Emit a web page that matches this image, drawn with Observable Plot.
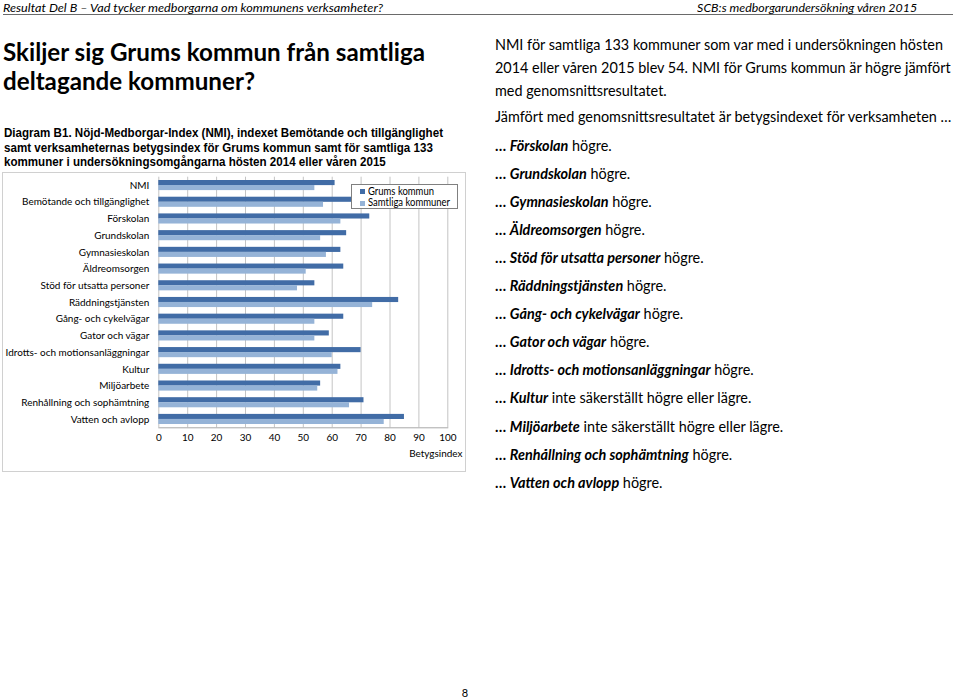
<!DOCTYPE html>
<html><head><meta charset="utf-8">
<script src="https://cdn.jsdelivr.net/npm/d3@7"></script>
<script src="https://cdn.jsdelivr.net/npm/@observablehq/plot@0.6"></script>
<style>
html,body{margin:0;padding:0;background:#fff;}
#page{position:relative;width:960px;height:699px;overflow:hidden;background:#fff;color:#000;}
.ln{position:absolute;white-space:nowrap;}
</style></head><body><div id="page"></div>
<script>
// ---------- data ----------
const categories = ["NMI","Bemötande och tillgänglighet","Förskolan","Grundskolan","Gymnasieskolan","Äldreomsorgen","Stöd för utsatta personer","Räddningstjänsten","Gång- och cykelvägar","Gator och vägar","Idrotts- och motionsanläggningar","Kultur","Miljöarbete","Renhållning och sophämtning","Vatten och avlopp"];
const grums    = [61,67,73,65,63,64,54,83,64,59,70,63,56,71,85];
const samtliga = [54,57,63,56,58,51,48,74,54,54,60,62,55,66,78];
const seriesNames = ["Grums kommun","Samtliga kommuner"];
const xTicks = [0,10,20,30,40,50,60,70,80,90,100];
const xLabel = "Betygsindex";

const headerLeft = "Resultat Del B – Vad tycker medborgarna om kommunens verksamheter?";
const headerRight = "SCB:s medborgarundersökning våren 2015";
const titleLines = ["Skiljer sig Grums kommun från samtliga","deltagande kommuner?"];
const captionLines = ["Diagram B1. Nöjd-Medborgar-Index (NMI), indexet Bemötande och tillgänglighet","samt verksamheternas betygsindex för Grums kommun samt för samtliga 133","kommuner i undersökningsomgångarna hösten 2014 eller våren 2015"];
const introLines = ["NMI för samtliga 133 kommuner som var med i undersökningen hösten","2014 eller våren 2015 blev 54. NMI för Grums kommun är högre jämfört","med genomsnittsresultatet."];
const compareLine = "Jämfört med genomsnittsresultatet är betygsindexet för verksamheten …";
const resultNames = ["Förskolan","Grundskolan","Gymnasieskolan","Äldreomsorgen","Stöd för utsatta personer","Räddningstjänsten","Gång- och cykelvägar","Gator och vägar","Idrotts- och motionsanläggningar","Kultur","Miljöarbete","Renhållning och sophämtning","Vatten och avlopp"];
const resultTexts = ["högre.","högre.","högre.","högre.","högre.","högre.","högre.","högre.","högre.","inte säkerställt högre eller lägre.","inte säkerställt högre eller lägre.","högre.","högre."];
const pageNumber = "8";

// ---------- helpers ----------
const page = document.getElementById("page");
function line(html, x, base, css, anchor){
  const d = document.createElement("div");
  d.className = "ln";
  d.style.cssText = css;
  d.innerHTML = html + '<span style="display:inline-block;width:0;height:0;vertical-align:baseline"></span>';
  page.appendChild(d);
  const b = d.lastChild.offsetTop;
  d.style.top = (base - b) + "px";
  d.style.left = x + "px";
  d._x = x; d._anchor = anchor || "start";
  return d;
}
function scaleGroup(els, ref, target){
  const s = target / ref.getBoundingClientRect().width;
  for (const e of els){
    const w = e.getBoundingClientRect().width;
    if (e._anchor === "end"){ e.style.left = (e._x - w) + "px"; e.style.transformOrigin = "right top"; }
    else e.style.transformOrigin = "left top";
    e.style.transform = `scaleX(${s})`;
  }
}
function esc(t){ return t.replace(/&/g,"&amp;").replace(/</g,"&lt;"); }

// ---------- header ----------
const hl = line(esc(headerLeft), 3, 11.7, "font:italic 12px Lato, sans-serif;color:#000;");
scaleGroup([hl], hl, 380);
const hr = line(esc(headerRight), 917, 11.7, "font:italic 12px Lato, sans-serif;color:#000;", "end");
scaleGroup([hr], hr, 220);
const rule = document.createElement("div");
rule.style.cssText = "position:absolute;left:3px;top:14px;width:950px;height:0;border-top:1.5px solid #6a6a6a;";
page.appendChild(rule);

// ---------- title ----------
const t = titleLines.map((s,i)=>line(esc(s), 3, 60.5 + i*29.5, "font:bold 25px Lato, sans-serif;"));
scaleGroup(t, t[0], 422);

// ---------- caption ----------
const c = captionLines.map((s,i)=>line(esc(s), 4, 137 + i*14.6, "font:bold 13.5px 'Liberation Sans', Arial, sans-serif;"));
scaleGroup(c, c[0], 439);

// ---------- right column ----------
const rc = [];
const rcss = "font:16px Lato, sans-serif;";
introLines.forEach((s,i)=>rc.push(line(esc(s), 495, 50 + i*23.2, rcss)));
rc.push(line(esc(compareLine), 495, 122, rcss));
resultNames.forEach((n,i)=>{
  rc.push(line(`<b>…</b> <b><i>${esc(n)}</i></b> ${esc(resultTexts[i])}`, 495, 151 + i*28.05, rcss));
});
scaleGroup(rc, rc[0], 448);

// page number
line(pageNumber, 465, 697, "font:11px Lato, sans-serif;transform:translateX(-50%);");

// ---------- chart ----------
function measure(text, font){ const cx = document.createElement("canvas").getContext("2d"); cx.font = font; return cx.measureText(text).width; }
const yFont = 10 * 144 / measure("Idrotts- och motionsanläggningar", "10px Lato");
const seriesColors = ["#416ca6","#95b3d7"];
const rows = categories.flatMap((k,i)=>[
  {kategori:k, serie:seriesNames[0], värde:grums[i]},
  {kategori:k, serie:seriesNames[1], värde:samtliga[i]}
]);

const box = document.createElement("div");
box.style.cssText = "position:absolute;left:2px;top:172px;width:462px;height:298px;border:1px solid #d0d0d0;background:#fff;";
page.appendChild(box);

const chart = Plot.plot({
  width: 462, height: 298,
  marginLeft: 155.3, marginRight: 17.7, marginTop: 3.7, marginBottom: 43.7,
  style: {fontFamily: "Lato, sans-serif", fontSize: yFont + "px", color: "#000", background: "#fff", overflow: "visible"},
  x: {domain: [0,100], ticks: xTicks, tickSize: 0, tickPadding: 6, label: xLabel, labelAnchor: "right", labelOffset: 29, labelArrow: "none"},
  y: {domain: categories, padding: 0, round: false, tickSize: 0, tickPadding: 9.5, label: null},
  color: {domain: seriesNames, range: seriesColors},
  marks: [
    Plot.ruleX(xTicks, {stroke: "#c4c4c4", strokeWidth: 1}),
    Plot.frame({anchor: "bottom", stroke: "#a8a8a8"}),
    Plot.barX(rows.filter(d=>d.serie===seriesNames[0]), {x: "värde", y: "kategori", fill: "serie", insetTop: 3.3, insetBottom: 8.3}),
    Plot.barX(rows.filter(d=>d.serie===seriesNames[1]), {x: "värde", y: "kategori", fill: "serie", insetTop: 8.3, insetBottom: 3.3})
  ]
});
chart.style.display = "block";
box.appendChild(chart);

// ---------- legend (inside chart area) ----------
const lg = document.createElement("div");
lg.style.cssText = "position:absolute;left:351px;top:184px;width:107px;height:25px;box-sizing:border-box;border:1px solid #808080;background:#fff;";
page.appendChild(lg);
const legEls = [];
seriesNames.forEach((n,i)=>{
  const sw = document.createElement("div");
  sw.style.cssText = `position:absolute;left:360px;top:${188.7 + i*12}px;width:5px;height:5px;background:${seriesColors[i]};`;
  page.appendChild(sw);
  legEls.push(line(esc(n), 368, 194.5 + i*11.5, "font:10.5px Lato, sans-serif;"));
});
scaleGroup(legEls, legEls[1], 82);
</script>
</body></html>
